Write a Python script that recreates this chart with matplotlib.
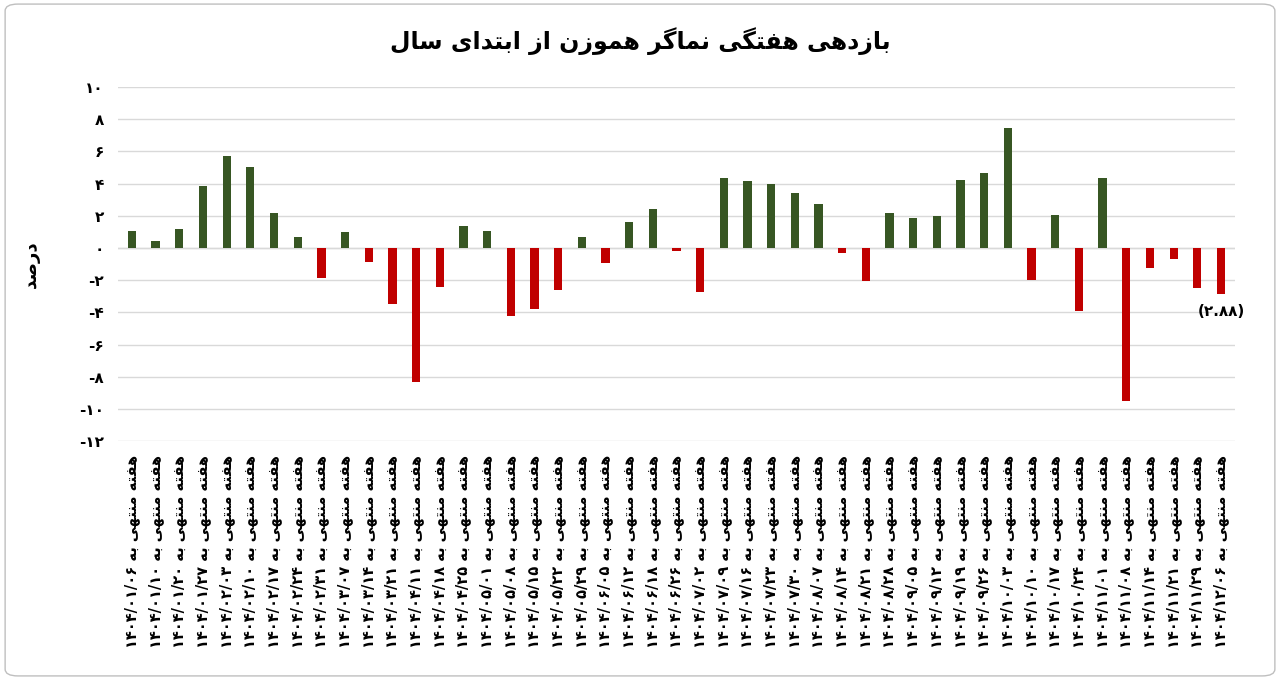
import matplotlib
matplotlib.use("Agg")
import matplotlib.pyplot as plt
from matplotlib.patches import FancyBboxPatch

dates = ["۱۴۰۴/۰۱/۰۶", "۱۴۰۴/۰۱/۱۰", "۱۴۰۴/۰۱/۲۰", "۱۴۰۴/۰۱/۲۷", "۱۴۰۴/۰۲/۰۳", "۱۴۰۴/۰۲/۱۰",
         "۱۴۰۴/۰۲/۱۷", "۱۴۰۴/۰۲/۲۴", "۱۴۰۴/۰۲/۳۱", "۱۴۰۴/۰۳/۰۷", "۱۴۰۴/۰۳/۱۴", "۱۴۰۴/۰۳/۲۱",
         "۱۴۰۴/۰۴/۱۱", "۱۴۰۴/۰۴/۱۸", "۱۴۰۴/۰۴/۲۵", "۱۴۰۴/۰۵/۰۱", "۱۴۰۴/۰۵/۰۸", "۱۴۰۴/۰۵/۱۵",
         "۱۴۰۴/۰۵/۲۲", "۱۴۰۴/۰۵/۲۹", "۱۴۰۴/۰۶/۰۵", "۱۴۰۴/۰۶/۱۲", "۱۴۰۴/۰۶/۱۸", "۱۴۰۴/۰۶/۲۶",
         "۱۴۰۴/۰۷/۰۲", "۱۴۰۴/۰۷/۰۹", "۱۴۰۴/۰۷/۱۶", "۱۴۰۴/۰۷/۲۳", "۱۴۰۴/۰۷/۳۰", "۱۴۰۴/۰۸/۰۷",
         "۱۴۰۴/۰۸/۱۴", "۱۴۰۴/۰۸/۲۱", "۱۴۰۴/۰۸/۲۸", "۱۴۰۴/۰۹/۰۵", "۱۴۰۴/۰۹/۱۲", "۱۴۰۴/۰۹/۱۹",
         "۱۴۰۴/۰۹/۲۶", "۱۴۰۴/۱۰/۰۳", "۱۴۰۴/۱۰/۱۰", "۱۴۰۴/۱۰/۱۷", "۱۴۰۴/۱۰/۲۴", "۱۴۰۴/۱۱/۰۱",
         "۱۴۰۴/۱۱/۰۸", "۱۴۰۴/۱۱/۱۴", "۱۴۰۴/۱۱/۲۱", "۱۴۰۴/۱۱/۲۹", "۱۴۰۴/۱۲/۰۶"]
returns = [1.05, 0.45, 1.2, 3.85, 5.7, 5.05, 2.2, 0.7, -1.85, 1.0, -0.85, -3.5,
           -8.3, -2.4, 1.4, 1.05, -4.2, -3.8, -2.6, 0.7, -0.95, 1.65, 2.45, -0.2,
           -2.75, 4.35, 4.15, 3.95, 3.4, 2.75, -0.3, -2.05, 2.15, 1.85, 2.0, 4.2,
           4.65, 7.45, -2.0, 2.05, -3.9, 4.35, -9.5, -1.25, -0.65, -2.45, -2.88]
yticks = list(range(-12, 11, 2))
last_label = "(۲.۸۸)"

# simple arabic shaping: (isolated, final, initial, medial); None -> doesn't join forward
FORMS = {
    "ا": ("\uFE8D", "\uFE8E", None, None), "ب": ("\uFE8F", "\uFE90", "\uFE91", "\uFE92"),
    "ت": ("\uFE95", "\uFE96", "\uFE97", "\uFE98"), "د": ("\uFEA9", "\uFEAA", None, None),
    "ر": ("\uFEAD", "\uFEAE", None, None), "ز": ("\uFEAF", "\uFEB0", None, None),
    "س": ("\uFEB1", "\uFEB2", "\uFEB3", "\uFEB4"), "ص": ("\uFEB9", "\uFEBA", "\uFEBB", "\uFEBC"),
    "ف": ("\uFED1", "\uFED2", "\uFED3", "\uFED4"), "گ": ("\uFB92", "\uFB93", "\uFB94", "\uFB95"),
    "ل": ("\uFEDD", "\uFEDE", "\uFEDF", "\uFEE0"), "م": ("\uFEE1", "\uFEE2", "\uFEE3", "\uFEE4"),
    "ن": ("\uFEE5", "\uFEE6", "\uFEE7", "\uFEE8"), "ه": ("\uFEE9", "\uFEEA", "\uFEEB", "\uFEEC"),
    "و": ("\uFEED", "\uFEEE", None, None), "ی": ("\uFBFC", "\uFBFD", "\uFBFE", "\uFBFF"),
}


def shape_word(w):
    out = []
    for i, c in enumerate(w):
        if c not in FORMS:
            out.append(c)
            continue
        prev = w[i - 1] if i > 0 else None
        nxt = w[i + 1] if i + 1 < len(w) else None
        jp = prev in FORMS and FORMS[prev][2] is not None
        jn = nxt in FORMS and FORMS[c][2] is not None
        f = FORMS[c]
        out.append(f[3] if jp and jn else f[1] if jp else f[2] if jn else f[0])
    return "".join(out)[::-1]


def rtl(s):
    toks = s.split(" ")
    return " ".join(shape_word(t) if any(ch in FORMS for ch in t) else t for t in toks[::-1])


plt.rcParams["font.family"] = ["DejaVu Sans"]

fig = plt.figure(figsize=(12.8, 6.8), dpi=100)
fig.patches.append(FancyBboxPatch((0.004, 0.006), 0.992, 0.988, boxstyle="round,pad=0,rounding_size=0.01",
                                  transform=fig.transFigure, fill=False, edgecolor="#bfbfbf", linewidth=1))
ax = fig.add_axes([0.092, 0.351, 0.873, 0.521])

x = list(range(len(returns)))
colors = ["#375623" if v >= 0 else "#c00000" for v in returns]
ax.bar(x, returns, width=0.35, color=colors, zorder=3)
ax.set_xlim(-0.6, len(returns) - 0.4)
ax.set_ylim(-12, 10)
ax.set_yticks(yticks)
fa = str.maketrans("0123456789", "۰۱۲۳۴۵۶۷۸۹")
ax.set_yticklabels([str(t).translate(fa) for t in yticks], fontsize=11, fontweight="bold")
ax.set_xticks(x)
ax.set_xticklabels([rtl("هفته منتهی به " + d) for d in dates], rotation=90, fontsize=10.5, fontweight="bold")
ax.grid(axis="y", color="#d9d9d9", linewidth=1, zorder=0)
ax.axhline(0, color="#d9d9d9", linewidth=1, zorder=1)
for s in ax.spines.values():
    s.set_visible(False)
ax.tick_params(length=0, pad=10)
ax.set_ylabel(rtl("درصد"), fontsize=13, fontweight="bold", labelpad=28)
ax.text(x[-1], returns[-1] - 0.6, last_label, ha="center", va="top", fontsize=11, fontweight="bold")
fig.text(0.5, 0.94, rtl("بازدهی هفتگی نماگر هموزن از ابتدای سال"), ha="center", va="center",
         fontsize=17, fontweight="bold")

fig.savefig("out.png", dpi=100)
